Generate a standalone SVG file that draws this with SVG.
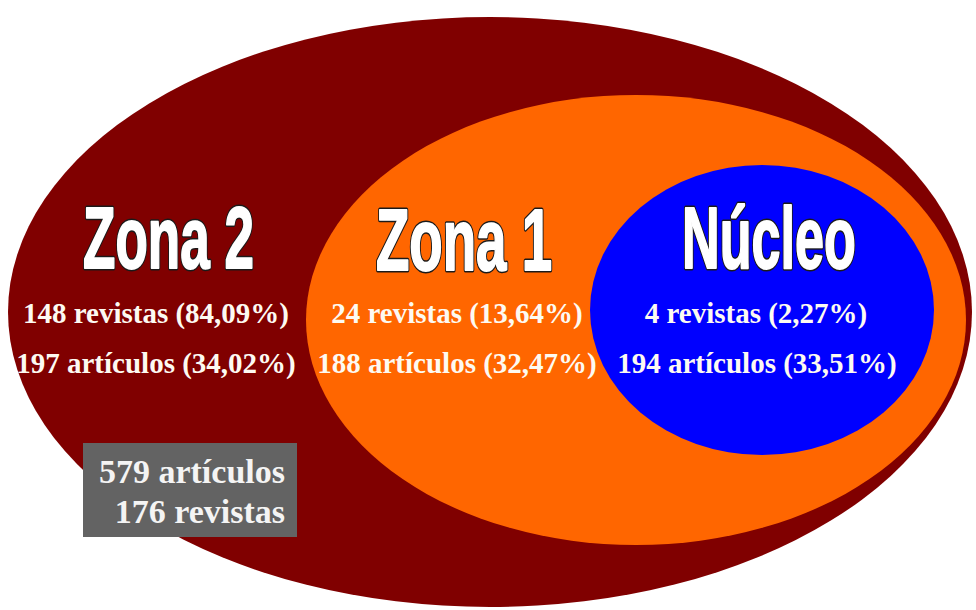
<svg xmlns="http://www.w3.org/2000/svg" width="976" height="610" viewBox="0 0 976 610">
<defs>
<style>
.title{font-family:"Liberation Sans","DejaVu Sans",sans-serif;font-weight:bold;font-size:88px}
.t-back{fill:#1a1a1a;stroke:#1a1a1a;stroke-width:5;stroke-linejoin:round}
.t-front{fill:#ffffff;stroke:#ffffff;stroke-width:2;stroke-linejoin:round}
.lbl{font-family:"Liberation Serif","Times New Roman",serif;font-weight:bold;font-size:29px;fill:#fdfaf2;text-anchor:middle}
.tot{font-family:"Liberation Serif","Times New Roman",serif;font-weight:bold;font-size:34px;fill:#f4f4f4;text-anchor:end}
</style>
</defs>
<rect width="976" height="610" fill="#ffffff"/>
<g id="zona2">
<ellipse cx="490" cy="312" rx="482" ry="295" fill="#800000"/>
</g>
<g id="zona1">
<ellipse cx="636" cy="320" rx="330" ry="225" fill="#ff6600"/>
</g>
<g id="nucleo">
<ellipse cx="762" cy="310" rx="172" ry="145" fill="#0000ff"/>
</g>
<g id="zona2-text">
<text class="title t-back" x="83" y="268" textLength="171" lengthAdjust="spacingAndGlyphs">Zona 2</text>
<text class="title t-front" x="83" y="268" textLength="171" lengthAdjust="spacingAndGlyphs">Zona 2</text>
<text class="lbl" x="156" y="323">148 revistas (84,09%)</text>
<text class="lbl" x="156" y="373">197 artículos (34,02%)</text>
</g>
<g id="zona1-text">
<text class="title t-back" x="376" y="270" textLength="176" lengthAdjust="spacingAndGlyphs">Zona 1</text>
<text class="title t-front" x="376" y="270" textLength="176" lengthAdjust="spacingAndGlyphs">Zona 1</text>
<text class="lbl" x="457" y="323">24 revistas (13,64%)</text>
<text class="lbl" x="457" y="373">188 artículos (32,47%)</text>
</g>
<g id="nucleo-text">
<text class="title t-back" x="682" y="268" textLength="174" lengthAdjust="spacingAndGlyphs">Núcleo</text>
<text class="title t-front" x="682" y="268" textLength="174" lengthAdjust="spacingAndGlyphs">Núcleo</text>
<text class="lbl" x="756" y="323">4 revistas (2,27%)</text>
<text class="lbl" x="757" y="373">194 artículos (33,51%)</text>
</g>
<g id="total">
<rect x="83" y="443" width="214" height="94" fill="#636363"/>
<text class="tot" x="285" y="483">579 artículos</text>
<text class="tot" x="285" y="523">176 revistas</text>
</g>
</svg>
